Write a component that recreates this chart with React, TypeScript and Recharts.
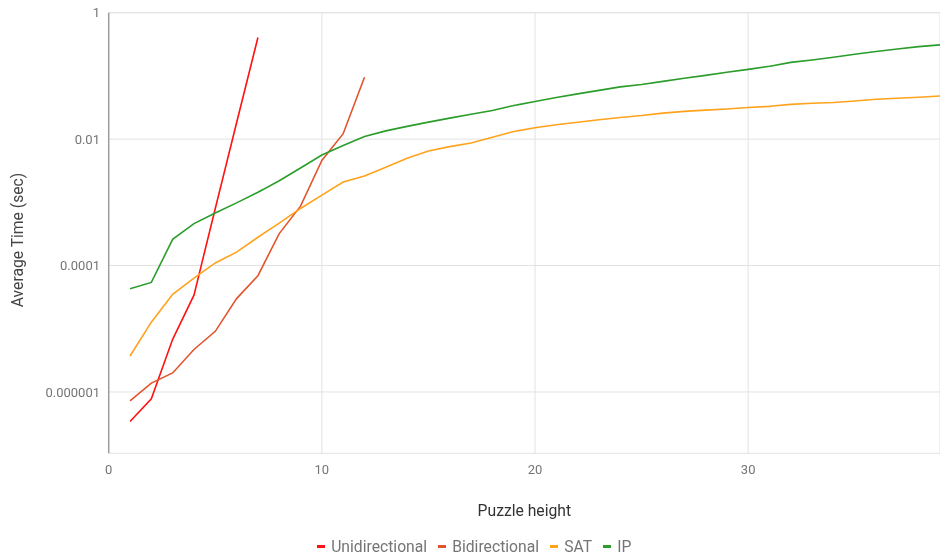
import React from 'react';
import { LineChart, Line, XAxis, YAxis, CartesianGrid, Legend, Label } from 'recharts';

// Puzzle heights on the x axis
const heights = [
  1, 2, 3, 4, 5, 6, 7, 8, 9, 10, 11, 12, 13, 14, 15, 16, 17, 18, 19, 20,
  21, 22, 23, 24, 25, 26, 27, 28, 29, 30, 31, 32, 33, 34, 35, 36, 37, 38, 39,
];

// Average solve time in seconds, per solver
const unidirectional = [3.4e-7, 7.8e-7, 6.8e-6, 3.4e-5, 8.0e-4, 0.0182, 0.405];
const bidirectional = [
  7.2e-7, 1.38e-6, 2.0e-6, 4.7e-6, 9.1e-6, 3.0e-5, 6.9e-5, 3.2e-4, 8.7e-4, 4.6e-3, 0.0122, 0.095,
];
const sat = [
  3.7e-6, 1.27e-5, 3.5e-5, 6.3e-5, 1.1e-4, 1.63e-4, 2.8e-4, 4.7e-4, 8.0e-4, 1.3e-3,
  2.1e-3, 2.6e-3, 3.6e-3, 5.0e-3, 6.5e-3, 7.6e-3, 8.7e-3, 0.0107, 0.0132, 0.0151,
  0.0169, 0.0185, 0.0202, 0.022, 0.0236, 0.0258, 0.0275, 0.0288, 0.030, 0.0317,
  0.033, 0.0355, 0.037, 0.038, 0.040, 0.0427, 0.0443, 0.046, 0.048,
];
const ip = [
  4.3e-5, 5.4e-5, 2.6e-4, 4.6e-4, 6.8e-4, 9.8e-4, 1.44e-3, 2.2e-3, 3.5e-3, 5.6e-3,
  7.9e-3, 0.011, 0.0135, 0.0159, 0.0186, 0.0215, 0.0248, 0.0283, 0.034, 0.0395,
  0.0457, 0.052, 0.059, 0.067, 0.073, 0.082, 0.092, 0.102, 0.114, 0.127,
  0.142, 0.164, 0.179, 0.197, 0.22, 0.243, 0.267, 0.291, 0.31,
];

const xTicks = [0, 10, 20, 30];
const yTicks = [1, 0.01, 0.0001, 0.000001];
const yTickLabels: Record<number, string> = {
  1: '1',
  0.01: '0.01',
  0.0001: '0.0001',
  0.000001: '0.000001',
};

const series = [
  { key: 'uni', name: 'Unidirectional', color: '#ff1212' },
  { key: 'bi', name: 'Bidirectional', color: '#e4542c' },
  { key: 'sat', name: 'SAT', color: '#ffa21c' },
  { key: 'ip', name: 'IP', color: '#2a9d2a' },
];

const data = heights.map((h, i) => ({
  height: h,
  uni: unidirectional[i] ?? null,
  bi: bidirectional[i] ?? null,
  sat: sat[i] ?? null,
  ip: ip[i] ?? null,
}));

const FONT = 'Roboto, "Noto Sans", Arial, sans-serif';
const TITLE_SIZE = 15.7;

const renderLegend = () => (
  <div
    style={{
      display: 'flex',
      justifyContent: 'center',
      alignItems: 'center',
      height: 15,
      lineHeight: '15px',
      fontFamily: FONT,
      fontSize: 15.7,
      color: '#757575',
      whiteSpace: 'nowrap',
      transform: 'translateY(-2px)',
    }}
  >
    {series.map((s, i) => (
      <span
        key={s.key}
        style={{ display: 'inline-flex', alignItems: 'center', marginLeft: i === 0 ? 0 : 10.6 }}
      >
        <span
          style={{ display: 'inline-block', width: 8, height: 3, background: s.color, marginRight: 6.5 }}
        />
        {s.name}
      </span>
    ))}
  </div>
);

const YTitle = (props: any) => {
  const vb = props.viewBox || { x: 0, y: 0, width: 0, height: 0 };
  const cx = vb.x + 9;
  const cy = vb.y + vb.height / 2 + 7;
  return (
    <text
      x={cx}
      y={cy}
      transform={`rotate(-90 ${cx} ${cy})`}
      textAnchor="middle"
      dominantBaseline="central"
      fontFamily={FONT}
      fontSize={TITLE_SIZE}
      fill="#444"
    >
      Average Time (sec)
    </text>
  );
};

export default function App() {
  return (
    <div style={{ position: 'fixed', left: 8, top: 0, width: 932, height: 556 }}>
      <LineChart
        width={932}
        height={556}
        data={data}
        margin={{ top: 12.7, right: 0, bottom: 0, left: 0 }}
      >
        <CartesianGrid stroke="#e2e2e2" strokeWidth={1} />
        <XAxis
          dataKey="height"
          type="number"
          domain={[0, 39]}
          ticks={xTicks}
          interval={0}
          axisLine={false}
          tickLine={false}
          tickSize={0}
          tickMargin={11.5}
          height={87.7}
          tick={{ fontFamily: FONT, fontSize: 13, fill: '#757575' }}
        >
          <Label
            value="Puzzle height"
            position="insideBottom"
            offset={25.5}
            style={{ fontFamily: FONT, fontSize: TITLE_SIZE, fill: '#333' }}
          />
        </XAxis>
        <YAxis
          scale="log"
          type="number"
          domain={[1.07e-7, 1.0005]}
          ticks={yTicks}
          interval={0}
          allowDataOverflow
          width={100.7}
          axisLine={{ stroke: '#9e9e9e', strokeWidth: 1.5 }}
          tickLine={false}
          tickSize={0}
          tickMargin={8.7}
          tickFormatter={(v: number) => yTickLabels[v] ?? String(v)}
          tick={{ fontFamily: FONT, fontSize: 13, fill: '#757575' }}
        >
          <Label content={<YTitle />} />
        </YAxis>
        <Legend verticalAlign="bottom" height={15} content={renderLegend} />
        {series.map((s) => (
          <Line
            key={s.key}
            dataKey={s.key}
            name={s.name}
            stroke={s.color}
            strokeWidth={1.6}
            dot={false}
            activeDot={false}
            isAnimationActive={false}
            connectNulls={false}
            type="linear"
          />
        ))}
      </LineChart>
    </div>
  );
}
